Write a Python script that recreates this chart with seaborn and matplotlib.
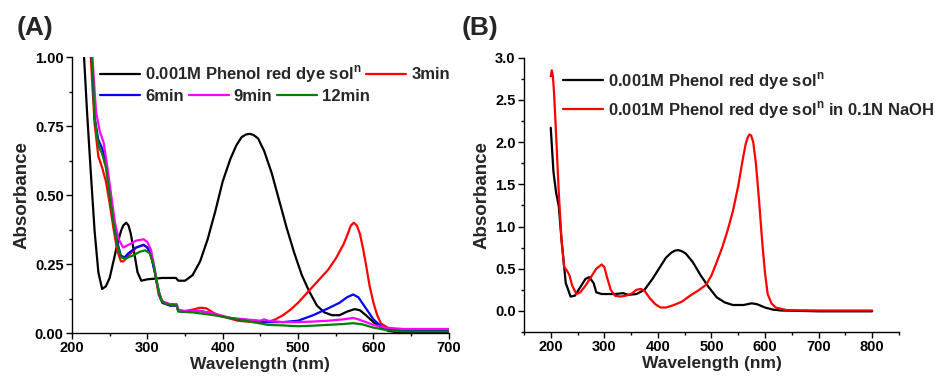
import numpy as np
import pandas as pd
import matplotlib
matplotlib.use("Agg")
import matplotlib.pyplot as plt
from matplotlib.ticker import MultipleLocator, FormatStrFormatter
from matplotlib.lines import Line2D
import seaborn as sns

# ---------------- Panel A data ----------------
a_dye_x = [213, 216, 220, 225, 230, 235, 240, 245, 250, 255, 260, 265, 268, 272, 275, 278, 282,
           287, 292, 300, 320, 338, 341, 350, 360, 370, 380, 390, 400, 410, 418, 425, 431, 436,
           441, 447, 455, 465, 475, 485, 495, 505, 515, 525, 535, 545, 555, 565, 575, 582, 590,
           600, 610, 620, 630, 650, 700]
a_dye_y = [1.15, 1.0, 0.8, 0.58, 0.37, 0.22, 0.16, 0.17, 0.2, 0.26, 0.32, 0.37, 0.39, 0.40, 0.39,
           0.36, 0.3, 0.22, 0.19, 0.195, 0.2, 0.2, 0.19, 0.19, 0.21, 0.26, 0.34, 0.44, 0.55, 0.63,
           0.68, 0.71, 0.72, 0.722, 0.718, 0.705, 0.66, 0.58, 0.48, 0.38, 0.29, 0.21, 0.15, 0.1,
           0.075, 0.065, 0.065, 0.078, 0.087, 0.083, 0.065, 0.04, 0.02, 0.008, 0.004, 0.003, 0.003]

a_3min_x = [224, 227, 230, 235, 240, 245, 250, 255, 260, 265, 268, 275, 285, 295, 300, 305, 310,
            315, 320, 330, 339, 341, 350, 360, 370, 378, 390, 400, 420, 440, 460, 470, 480, 490,
            500, 510, 520, 530, 540, 550, 560, 566, 570, 574, 578, 582, 586, 590, 595, 600, 605,
            610, 620, 640, 700]
a_3min_y = [1.05, 0.9, 0.76, 0.64, 0.6, 0.55, 0.47, 0.38, 0.3, 0.26, 0.26, 0.28, 0.31, 0.32, 0.31,
            0.28, 0.22, 0.14, 0.11, 0.1, 0.1, 0.08, 0.08, 0.085, 0.092, 0.09, 0.07, 0.06, 0.045,
            0.04, 0.04, 0.05, 0.065, 0.085, 0.11, 0.14, 0.17, 0.2, 0.23, 0.27, 0.32, 0.36, 0.39,
            0.4, 0.39, 0.36, 0.31, 0.25, 0.17, 0.11, 0.065, 0.035, 0.018, 0.01, 0.01]

a_6min_x = [225, 228, 230, 235, 240, 245, 250, 255, 260, 265, 270, 275, 285, 295, 300, 305, 310,
            315, 320, 330, 339, 341, 350, 370, 380, 400, 420, 440, 460, 480, 500, 520, 540, 555,
            565, 573, 580, 590, 600, 610, 620, 640, 700]
a_6min_y = [1.05, 0.92, 0.78, 0.7, 0.67, 0.62, 0.52, 0.42, 0.33, 0.28, 0.275, 0.29, 0.31, 0.32,
            0.31, 0.28, 0.22, 0.15, 0.11, 0.1, 0.1, 0.08, 0.08, 0.08, 0.075, 0.06, 0.05, 0.045,
            0.04, 0.04, 0.045, 0.065, 0.09, 0.11, 0.13, 0.14, 0.13, 0.09, 0.05, 0.025, 0.012,
            0.008, 0.008]

a_9min_x = [226, 229, 232, 237, 242, 247, 252, 257, 262, 268, 275, 285, 295, 300, 305, 310, 315,
            320, 330, 339, 341, 350, 370, 390, 410, 430, 450, 455, 460, 480, 500, 520, 540, 560,
            573, 580, 590, 600, 615, 640, 700]
a_9min_y = [1.05, 0.92, 0.8, 0.73, 0.69, 0.6, 0.5, 0.4, 0.34, 0.31, 0.32, 0.335, 0.34, 0.33, 0.3,
            0.23, 0.15, 0.115, 0.105, 0.105, 0.085, 0.08, 0.08, 0.07, 0.055, 0.05, 0.045, 0.05,
            0.045, 0.04, 0.04, 0.042, 0.045, 0.05, 0.055, 0.05, 0.04, 0.03, 0.02, 0.015, 0.015]

a_12min_x = [225, 228, 230, 235, 240, 245, 250, 255, 260, 265, 270, 280, 290, 297, 303, 308, 313,
             318, 325, 339, 341, 360, 380, 400, 420, 440, 460, 480, 500, 520, 540, 560, 573, 585,
             600, 620, 640, 700]
a_12min_y = [1.05, 0.92, 0.78, 0.68, 0.65, 0.6, 0.5, 0.4, 0.32, 0.275, 0.27, 0.28, 0.295, 0.3,
             0.29, 0.25, 0.18, 0.12, 0.105, 0.1, 0.078, 0.075, 0.068, 0.06, 0.05, 0.04, 0.03,
             0.028, 0.025, 0.027, 0.03, 0.033, 0.036, 0.032, 0.02, 0.01, 0.006, 0.006]

# ---------------- Panel B data ----------------
b_dye_x = [200, 205, 210, 215, 220, 228, 237, 245, 255, 265, 272, 280, 285, 295, 320, 335, 345,
           360, 375, 390, 400, 415, 425, 432, 438, 444, 452, 465, 480, 495, 510, 525, 540, 560,
           575, 585, 600, 615, 630, 700, 800]
b_dye_y = [2.17, 1.65, 1.4, 1.24, 0.85, 0.33, 0.17, 0.18, 0.28, 0.38, 0.40, 0.33, 0.22, 0.2,
           0.2, 0.21, 0.19, 0.2, 0.25, 0.38, 0.48, 0.63, 0.69, 0.715, 0.72, 0.71, 0.68, 0.58,
           0.42, 0.28, 0.16, 0.1, 0.07, 0.07, 0.09, 0.08, 0.04, 0.015, 0.005, -0.005, -0.005]

b_naoh_x = [200, 202, 204, 206, 208, 211, 215, 220, 225, 230, 235, 240, 248, 255, 265, 275, 285,
            295, 300, 305, 312, 320, 330, 340, 350, 360, 368, 375, 385, 395, 405, 415, 430, 445,
            460, 475, 490, 500, 510, 520, 530, 540, 550, 558, 564, 568, 571, 574, 578, 583, 589,
            595, 600, 605, 612, 620, 640, 700, 800]
b_naoh_y = [2.78, 2.85, 2.78, 2.6, 2.35, 1.95, 1.4, 0.85, 0.52, 0.48, 0.42, 0.3, 0.2, 0.22, 0.3,
            0.4, 0.5, 0.55, 0.52, 0.4, 0.25, 0.18, 0.17, 0.18, 0.2, 0.25, 0.26, 0.24, 0.15, 0.08,
            0.04, 0.04, 0.07, 0.11, 0.18, 0.24, 0.31, 0.42, 0.58, 0.75, 0.95, 1.18, 1.48, 1.78,
            1.98, 2.06, 2.09, 2.08, 2.0, 1.75, 1.3, 0.8, 0.45, 0.2, 0.09, 0.04, 0.01, 0.005, 0.005]

dye_label = r"0.001M Phenol red dye sol$^{\mathrm{n}}$"
naoh_label = r"0.001M Phenol red dye sol$^{\mathrm{n}}$ in 0.1N NaOH"

# ---------------- Styling ----------------
sns.set_style("ticks")
plt.rcParams["font.family"] = ["Liberation Sans", "DejaVu Sans"]
plt.rcParams["font.weight"] = "bold"
plt.rcParams["axes.labelweight"] = "bold"
plt.rcParams["mathtext.fontset"] = "custom"
plt.rcParams["mathtext.rm"] = "Liberation Sans"
plt.rcParams["mathtext.bf"] = "Liberation Sans:bold"
plt.rcParams["axes.edgecolor"] = "black"
plt.rcParams["xtick.color"] = "black"
plt.rcParams["ytick.color"] = "black"

fig = plt.figure(figsize=(9.35, 3.76), dpi=100)
axA = fig.add_axes([0.077, 0.114, 0.403, 0.734])
axB = fig.add_axes([0.5604, 0.117, 0.401, 0.7295])

lw = 1.6
seriesA = [
    (a_dye_x, a_dye_y, "black", dye_label),
    (a_3min_x, a_3min_y, "#ff0000", "3min"),
    (a_6min_x, a_6min_y, "#0000ff", "6min"),
    (a_9min_x, a_9min_y, "#ff00ff", "9min"),
    (a_12min_x, a_12min_y, "#008000", "12min"),
]
handlesA = []
for xs, ys, c, lab in seriesA:
    df = pd.DataFrame({"x": xs, "y": ys})
    sns.lineplot(data=df, x="x", y="y", ax=axA, color=c, lw=lw, legend=False)
    handlesA.append(Line2D([], [], color=c, lw=lw, label=lab))

seriesB = [
    (b_dye_x, b_dye_y, "black", dye_label),
    (b_naoh_x, b_naoh_y, "#ff0000", naoh_label),
]
handlesB = []
for xs, ys, c, lab in seriesB:
    df = pd.DataFrame({"x": xs, "y": ys})
    sns.lineplot(data=df, x="x", y="y", ax=axB, color=c, lw=lw, legend=False)
    handlesB.append(Line2D([], [], color=c, lw=lw, label=lab))

axA.set_xlim(200, 700)
axA.set_ylim(0, 1.0)
axA.yaxis.set_major_locator(MultipleLocator(0.25))
axA.yaxis.set_minor_locator(MultipleLocator(0.125))
axA.yaxis.set_major_formatter(FormatStrFormatter("%.2f"))

axB.set_xlim(150, 850)
axB.set_ylim(-0.25, 3.0)
axB.set_yticks([0.0, 0.5, 1.0, 1.5, 2.0, 2.5, 3.0])
axB.yaxis.set_minor_locator(MultipleLocator(0.25))
axB.yaxis.set_major_formatter(FormatStrFormatter("%.1f"))

for ax in (axA, axB):
    sns.despine(ax=ax)
    ax.set_xlabel("Wavelength (nm)", fontsize=12.5, fontweight="bold", labelpad=1)
    ax.set_ylabel("Absorbance", fontsize=13.5, fontweight="bold", labelpad=3)
    ax.xaxis.set_major_locator(MultipleLocator(100))
    ax.xaxis.set_minor_locator(MultipleLocator(50))
    ax.tick_params(which="major", direction="out", length=4, width=1, labelsize=10.5, pad=2)
    ax.tick_params(which="minor", direction="out", length=2, width=1)
    for lab in ax.get_xticklabels() + ax.get_yticklabels():
        lab.set_fontweight("bold")
    for s in ax.spines.values():
        s.set_linewidth(1.0)

leg_kw = dict(frameon=False, loc="center left", borderpad=0, borderaxespad=0,
              handlelength=2.4, handletextpad=0.3, columnspacing=0.3,
              prop={"weight": "bold", "size": 12})
legA1 = axA.legend(handles=handlesA[:2], ncol=2, bbox_to_anchor=(0.074, 0.938), **leg_kw)
axA.add_artist(legA1)
legA2 = axA.legend(handles=handlesA[2:], ncol=3, bbox_to_anchor=(0.074, 0.859), **leg_kw)

legB_kw = dict(leg_kw)
legB_kw["labelspacing"] = 0.45
axB.legend(handles=handlesB, ncol=1, bbox_to_anchor=(0.104, 0.862), **legB_kw)

fig.text(0.018, 0.925, "(A)", fontsize=19, fontweight="bold", ha="left", va="center")
fig.text(0.494, 0.925, "(B)", fontsize=19, fontweight="bold", ha="left", va="center")

fig.savefig("out.png", dpi=100)
